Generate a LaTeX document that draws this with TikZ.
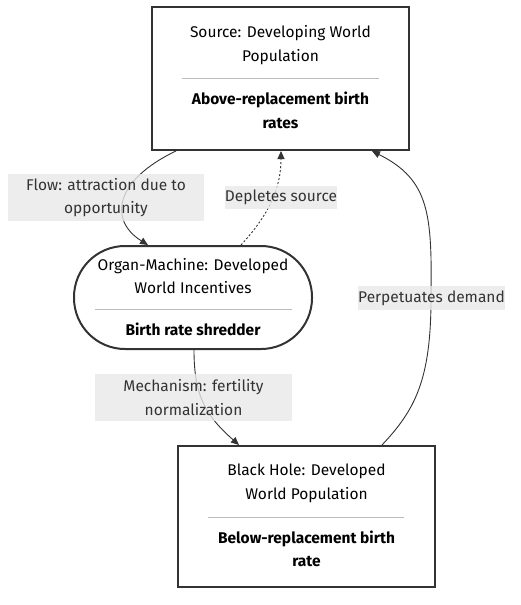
\documentclass[tikz,border=0pt]{standalone}
\usepackage{fontspec}
\setmainfont{Fira Sans}
\usetikzlibrary{arrows.meta,calc}
\definecolor{ink}{HTML}{333333}
\definecolor{lblbg}{HTML}{E8E8E8}
\definecolor{sepc}{HTML}{BBBBBB}
\tikzset{
  box/.style={draw=ink, line width=2pt, fill=white, inner sep=0pt},
  ttl/.style={inner sep=0pt, align=center, text=black, font=\fontsize{15.5}{23.5}\selectfont},
  bld/.style={inner sep=0pt, align=center, text=black, font=\fontsize{15.5}{23.5}\selectfont\bfseries},
  lbl/.style={fill=lblbg, fill opacity=0.8, text opacity=1, text=ink, inner sep=0pt, align=center, font=\fontsize{15.5}{23.5}\selectfont},
  sepline/.style={draw=sepc, line width=1pt},
  edge/.style={draw=ink, line width=0.9pt, -{Triangle[length=8pt,width=7pt]}},
}
\begin{document}
\begin{tikzpicture}[x=1pt,y=-1pt]
\useasboundingbox (0,0) rectangle (520,605);
% nodes
\node[box, minimum width=257pt, minimum height=143pt] (src) at (280.5,78.5) {};
\node[ttl] (srcT) at (280.5,45) {Source: Developing World\\Population};
\coordinate (srcSL) at (182,78); \coordinate (srcSR) at (379,78);
\draw[sepline] (srcSL) -- (srcSR);
\node[bld] (srcB) at (280.5,110.5) {Above-replacement birth\\rates};

\node[box, rounded corners=51pt, minimum width=238pt, minimum height=103pt] (org) at (193,297.5) {};
\node[ttl] (orgT) at (193,276) {Organ-Machine: Developed\\World Incentives};
\coordinate (orgSL) at (95,309); \coordinate (orgSR) at (292,309);
\draw[sepline] (orgSL) -- (orgSR);
\node[bld] (orgB) at (193,329) {Birth rate shredder};

\node[box, minimum width=257pt, minimum height=141pt] (blk) at (306.5,516.5) {};
\node[ttl] (blkT) at (306.5,483.5) {Black Hole: Developed\\World Population};
\coordinate (blkSL) at (208,517); \coordinate (blkSR) at (404,517);
\draw[sepline] (blkSL) -- (blkSR);
\node[bld] (blkB) at (306.5,549) {Below-replacement birth\\rate};

% edges
\draw[edge] ($(src.south)+(-104.5,0)$) .. controls (115,180) and (108,220) .. ($(org.north)+(-45,0)$);
\draw[edge, dash pattern=on 2pt off 2pt] ($(org.north)+(48,0)$) .. controls (262,222) and (281,195) .. ($(src.south)+(0.5,0)$);
\draw[edge] ($(blk.north)+(75.5,0)$) .. controls (415,410) and (431,380) .. (431,298) .. controls (432,215) and (430,180) .. ($(src.south)+(91.5,0)$);
\draw[edge] ($(org.south)+(1,0)$) .. controls (194,395) and (205,415) .. ($(blk.north)+(-67.5,0)$);

% labels
\node[lbl, minimum width=196pt, minimum height=47pt] (l1) at (106,197.5) {Flow: attraction due to\\opportunity};
\node[lbl, minimum width=112pt, minimum height=23pt] (l2) at (281,197.5) {Depletes source};
\node[lbl, minimum width=145pt, minimum height=24pt] (l3) at (431.5,298) {Perpetuates demand};
\node[lbl, minimum width=197pt, minimum height=47pt] (l4) at (193.5,397.5) {Mechanism: fertility\\normalization};
\end{tikzpicture}
\end{document}
